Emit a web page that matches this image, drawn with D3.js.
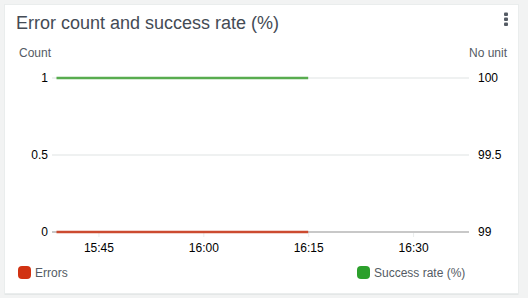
<!DOCTYPE html>
<html>
<head>
<meta charset="utf-8">
<script src="https://cdn.jsdelivr.net/npm/d3@7"></script>
<style>
  body { margin: 0; background: #f2f3f3; font-family: "Liberation Sans", Arial, sans-serif; }
  svg { display: block; }
</style>
</head>
<body>
<svg id="chart" width="528" height="298"></svg>
<script>
// data
const times = ["15:39", "15:42", "15:45", "15:48", "15:51", "15:54", "15:57",
               "16:00", "16:03", "16:06", "16:09", "16:12", "16:15"];
const errors = [0, 0, 0, 0, 0, 0, 0, 0, 0, 0, 0, 0, 0];
const successRate = [100, 100, 100, 100, 100, 100, 100, 100, 100, 100, 100, 100, 100];
const leftTicks = [0, 0.5, 1];
const rightTicks = [99, 99.5, 100];
const xTicks = ["15:45", "16:00", "16:15", "16:30"];
const seriesNames = ["Errors", "Success rate (%)"];

const parse = d3.timeParse("%H:%M");

let svg = d3.select("#chart");

// card
svg.append("rect")
  .attr("x", 4.5).attr("y", 4.5)
  .attr("width", 514).attr("height", 290)
  .attr("fill", "#d5dbdb");
svg.append("rect")
  .attr("x", 4.5).attr("y", 4.5)
  .attr("width", 514).attr("height", 289)
  .attr("fill", "#fff")
  .attr("stroke", "#eaeded");

svg.append("text")
  .attr("x", 16)
  .attr("y", 29)
  .attr("fill", "#444b55")
  .style("font-size", "18px")
  .text("Error count and success rate (%)");

// kebab menu
svg.selectAll(".dot")
  .data([14, 19, 24])
  .enter().append("rect")
  .attr("x", 504).attr("y", d => d - 1.5)
  .attr("width", 4).attr("height", 3.5)
  .attr("rx", 1)
  .attr("fill", "#545b64");

svg.append("text")
  .attr("x", 19).attr("y", 57)
  .attr("fill", "#545b64")
  .style("font-size", "12px")
  .text("Count");
svg.append("text")
  .attr("x", 507).attr("y", 57)
  .attr("text-anchor", "end")
  .attr("fill", "#545b64")
  .style("font-size", "12px")
  .text("No unit");

let x = d3.scaleTime()
  .domain([parse("15:39"), parse("16:38")])
  .range([56.5, 469]);
let yLeft = d3.scaleLinear().domain([0, 1]).range([232, 78]);
let yRight = d3.scaleLinear().domain([99, 100]).range([232, 78]);

// gridlines
svg.selectAll(".grid")
  .data(leftTicks.filter(d => d !== 0))
  .enter().append("line")
  .attr("x1", 52).attr("x2", 469)
  .attr("y1", d => yLeft(d)).attr("y2", d => yLeft(d))
  .attr("stroke", "#eaeded")
  .attr("stroke-width", 1.5);

// bottom axis
let xAxis = svg.append("g")
  .attr("transform", "translate(0," + yLeft(0) + ")")
  .call(d3.axisBottom(x)
    .tickValues(xTicks.map(parse))
    .tickFormat(d3.timeFormat("%H:%M"))
    .tickSize(5)
    .tickPadding(6));
xAxis.select(".domain").remove();
xAxis.selectAll(".tick line").attr("stroke", "#eaeded");
xAxis.selectAll("text").attr("fill", "#000").style("font-size", "12px")
  .style("font-family", "Liberation Sans, Arial, sans-serif");
svg.append("line")
  .attr("x1", 52).attr("x2", 469)
  .attr("y1", yLeft(0)).attr("y2", yLeft(0))
  .attr("stroke", "#c8c8c8")
  .attr("stroke-width", 2);

// y tick labels
svg.selectAll(".ltick")
  .data(leftTicks)
  .enter().append("text")
  .attr("x", 48).attr("y", d => yLeft(d))
  .attr("dy", "0.35em")
  .attr("text-anchor", "end")
  .style("font-size", "12px")
  .text(d => d);
svg.selectAll(".rtick")
  .data(rightTicks)
  .enter().append("text")
  .attr("x", 478).attr("y", d => yRight(d))
  .attr("dy", "0.35em")
  .style("font-size", "12px")
  .text(d => d);

// series lines
let errLine = d3.line()
  .x((d, i) => x(parse(times[i])))
  .y(d => yLeft(d));
let rateLine = d3.line()
  .x((d, i) => x(parse(times[i])))
  .y(d => yRight(d));

svg.append("path")
  .datum(successRate)
  .attr("d", rateLine)
  .attr("fill", "none")
  .attr("stroke", "#58ac4f")
  .attr("stroke-width", 2.5);
svg.append("path")
  .datum(errors)
  .attr("d", errLine)
  .attr("fill", "none")
  .attr("stroke", "#cc4b30")
  .attr("stroke-width", 2.5);

// legend
let legendX = [18, 357];
let legendColors = ["#d13212", "#2ca02c"];
let legend = svg.selectAll(".legend")
  .data(seriesNames)
  .enter().append("g")
  .attr("transform", (d, i) => "translate(" + legendX[i] + ",266)");
legend.append("rect")
  .attr("width", 13).attr("height", 13)
  .attr("rx", 4)
  .attr("fill", (d, i) => legendColors[i]);
legend.append("text")
  .attr("x", 17).attr("y", 7)
  .attr("dy", "0.35em")
  .attr("fill", "#545b64")
  .style("font-size", "12px")
  .text(d => d);
</script>
</body>
</html>
